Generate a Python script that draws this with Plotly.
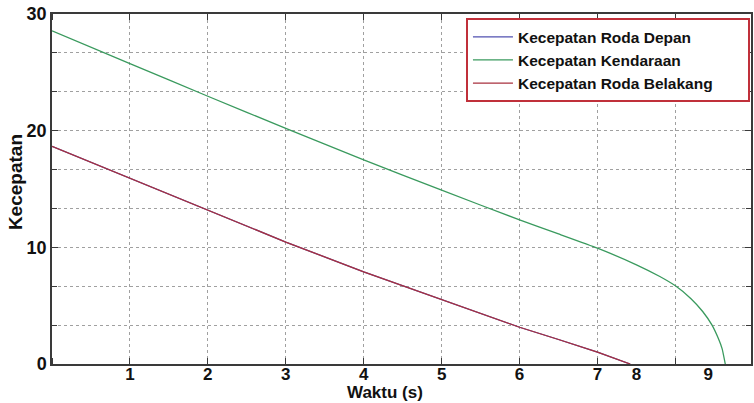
import plotly.graph_objects as go

# Data
t_belakang = [0.0, 1.0, 2.0, 3.0, 4.0, 5.0, 6.0, 6.5, 7.0, 7.42]
v_belakang = [18.65, 15.9, 13.2, 10.45, 7.9, 5.5, 3.15, 2.1, 1.02, 0.0]
t_depan = t_belakang
v_depan = v_belakang
t_kendaraan = [0.0, 1.0, 2.0, 3.0, 4.0, 5.0, 6.0, 6.5, 7.0, 7.5, 7.8, 8.0, 8.2, 8.35, 8.47, 8.55, 8.6, 8.64]
v_kendaraan = [28.56, 25.75, 22.95, 20.2, 17.5, 14.9, 12.35, 11.15, 9.93, 8.5, 7.5, 6.7, 5.6, 4.5, 3.33, 2.2, 1.3, 0.0]

x_tick_vals = [1, 2, 3, 4, 5, 6, 7, 7.5, 8.42]
x_tick_text = ["1", "2", "3", "4", "5", "6", "7", "8", "9"]
y_tick_vals = [0, 10, 20, 30]

names = ["Kecepatan Roda Depan", "Kecepatan Kendaraan", "Kecepatan Roda Belakang"]
colors = ["#5050b0", "#3a9a5e", "#a8303e"]

FONT = "Liberation Sans, Arial, sans-serif"
PAD = "\u00a0" * 7

fig = go.Figure()
fig.add_trace(go.Scatter(x=t_depan, y=v_depan, mode="lines", name=names[0] + PAD,
                         line=dict(color=colors[0], width=1.3)))
fig.add_trace(go.Scatter(x=t_kendaraan, y=v_kendaraan, mode="lines", name=names[1] + PAD,
                         line=dict(color=colors[1], width=1.3, shape="spline", smoothing=0.4)))
fig.add_trace(go.Scatter(x=t_belakang, y=v_belakang, mode="lines", name=names[2] + PAD,
                         line=dict(color=colors[2], width=1.3)))

grid_color = "#a0a0a0"
axis_color = "#3a3a3a"

fig.update_layout(
    width=754, height=403,
    margin=dict(l=52, r=1, t=14, b=39),
    paper_bgcolor="white", plot_bgcolor="white",
    font=dict(family=FONT, color="#111111"),
    showlegend=True,
    legend=dict(
        x=0.9985, y=0.988, xanchor="right", yanchor="top",
        bgcolor="white", bordercolor="#c0303a", borderwidth=2,
        font=dict(family=FONT, size=15.5, color="#111111", weight="bold"),
        tracegroupgap=0, itemwidth=40,
    ),
    xaxis=dict(
        range=[0, 8.97],
        tickmode="array", tickvals=x_tick_vals, ticktext=x_tick_text,
        ticks="", showgrid=False, zeroline=False, ticklabelstandoff=-6,
        showline=True, linecolor=axis_color, linewidth=1.5, mirror="ticks",
        tickfont=dict(family=FONT, size=17, weight="bold", color="#111111"),
        minor=dict(tick0=0, dtick=1, ticks="inside", ticklen=6, tickcolor=axis_color,
                   showgrid=True, gridcolor=grid_color, griddash="dot", gridwidth=1),
    ),
    yaxis=dict(
        range=[0, 30],
        tickmode="array", tickvals=y_tick_vals,
        ticks="inside", ticklen=6, tickcolor=axis_color,
        showgrid=True, gridcolor=grid_color, griddash="dot", gridwidth=1,
        zeroline=False,
        showline=True, linecolor=axis_color, linewidth=1.5, mirror="ticks",
        tickfont=dict(family=FONT, size=18, weight="bold", color="#111111"),
        minor=dict(tick0=0, dtick=10 / 3, ticks="inside", ticklen=5, tickcolor=axis_color,
                   showgrid=True, gridcolor=grid_color, griddash="dot", gridwidth=1),
    ),
    annotations=[
        dict(text="Waktu (s)", xref="paper", yref="paper", x=(386 - 52) / 701, y=-(393 - 364) / 350,
             xanchor="center", yanchor="middle", showarrow=False,
             font=dict(family=FONT, size=17, weight="bold", color="#111111")),
        dict(text="Kecepatan", xref="paper", yref="paper", x=-(52 - 15) / 701, y=(364 - 182) / 350,
             xanchor="center", yanchor="middle", showarrow=False, textangle=-90,
             font=dict(family=FONT, size=19, weight="bold", color="#111111")),
    ],
)

fig.write_html("out.html")
